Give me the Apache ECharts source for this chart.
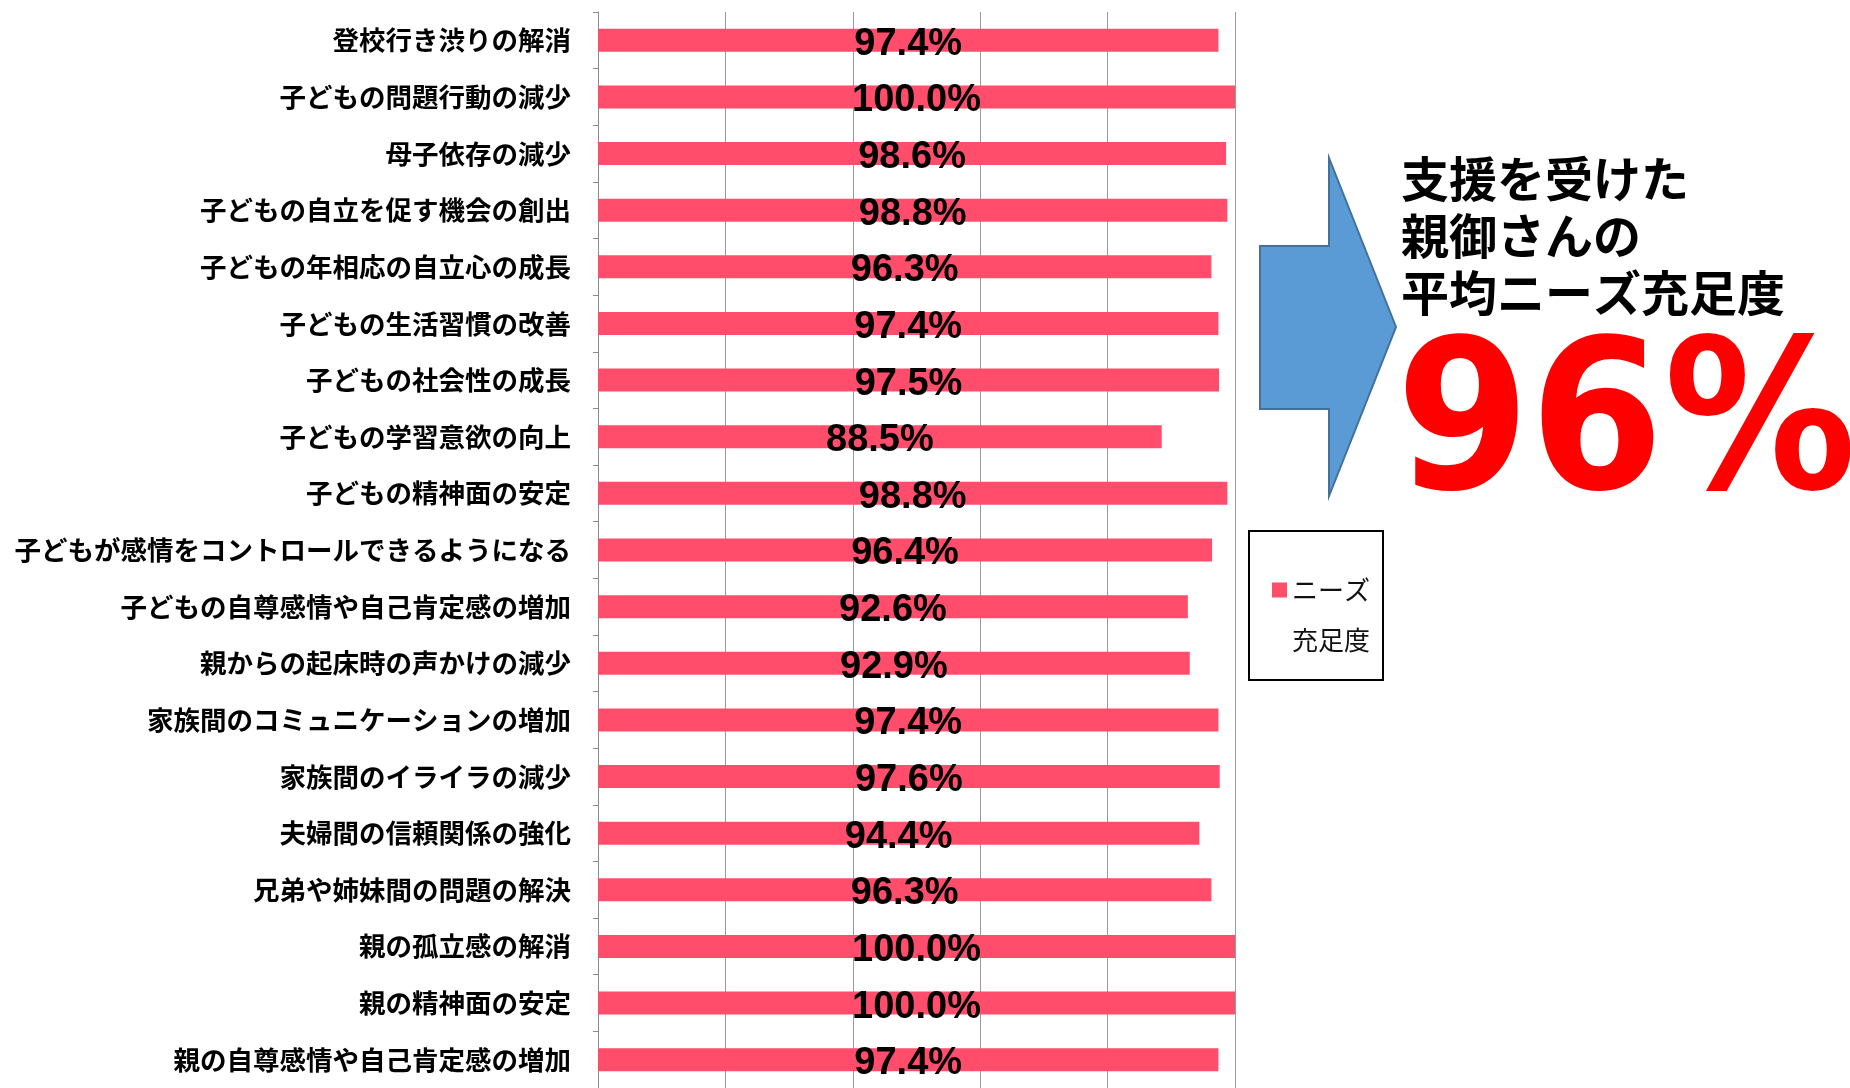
<!DOCTYPE html>
<html>
<head>
<meta charset="utf-8">
<script src="https://cdn.jsdelivr.net/npm/echarts@6/dist/echarts.min.js"></script>
<style>
  html, body { margin: 0; padding: 0; background: #fff; }
  #chart { width: 1850px; height: 1088px; }
</style>
</head>
<body>
<div id="chart"></div>
<script>
// Survey items (top to bottom) and the share of parents whose need was met (%)
const categories = [
  '登校行き渋りの解消',
  '子どもの問題行動の減少',
  '母子依存の減少',
  '子どもの自立を促す機会の創出',
  '子どもの年相応の自立心の成長',
  '子どもの生活習慣の改善',
  '子どもの社会性の成長',
  '子どもの学習意欲の向上',
  '子どもの精神面の安定',
  '子どもが感情をコントロールできるようになる',
  '子どもの自尊感情や自己肯定感の増加',
  '親からの起床時の声かけの減少',
  '家族間のコミュニケーションの増加',
  '家族間のイライラの減少',
  '夫婦間の信頼関係の強化',
  '兄弟や姉妹間の問題の解決',
  '親の孤立感の解消',
  '親の精神面の安定',
  '親の自尊感情や自己肯定感の増加'
];
const satisfaction = [97.4, 100.0, 98.6, 98.8, 96.3, 97.4, 97.5, 88.5, 98.8, 96.4,
                      92.6, 92.9, 97.4, 97.6, 94.4, 96.3, 100.0, 100.0, 97.4];
const seriesName = 'ニーズ充足度';
const headline = ['支援を受けた', '親御さんの', '平均ニーズ充足度'];
const averageText = '96%';

const CJK = '"Noto Sans CJK JP", "Noto Sans", sans-serif';

// Legend swatch: a square sitting at the top of a tall item box, so it lines up
// with the first of the two legend text lines (the zero-length stroke only sets the box).
const legendIcon = 'path://M0,0L15,0L15,15L0,15Z M15,65L15,65';

const chart = echarts.init(document.getElementById('chart'));
chart.setOption({
  animation: false,
  backgroundColor: '#ffffff',
  grid: { left: 598, top: 12, width: 637, height: 1081, containLabel: false },
  xAxis: {
    type: 'value', min: 0, max: 100, interval: 20,
    axisLabel: { show: false }, axisLine: { show: false }, axisTick: { show: false },
    splitLine: { show: true, lineStyle: { color: '#9a9a9a', width: 1 } }
  },
  yAxis: {
    type: 'category', data: categories, inverse: true,
    axisLine: { show: true, lineStyle: { color: '#8c8c8c', width: 1 } },
    axisTick: { show: true, length: 5, lineStyle: { color: '#8c8c8c' } },
    axisLabel: {
      margin: 27, fontSize: 26.5, fontWeight: 'bold', color: '#000', fontFamily: CJK,
      padding: [0, 0, 7, 0]
    }
  },
  legend: {
    left: 1249, top: 531, orient: 'vertical',
    icon: legendIcon, itemWidth: 15, itemHeight: 65,
    padding: [34, 13, 15, 23],
    borderColor: '#000', borderWidth: 2,
    formatter: () => 'ニーズ\n充足度',
    textStyle: { fontSize: 26, lineHeight: 50, color: '#111', fontFamily: CJK },
    data: [seriesName]
  },
  series: [{
    name: seriesName, type: 'bar', data: satisfaction, barWidth: 23,
    itemStyle: { color: '#ff4d6b' },
    label: {
      show: true, position: 'inside', offset: [0, 4],
      formatter: p => p.value.toFixed(1) + '%',
      fontFamily: '"Liberation Sans", Arial, sans-serif', fontWeight: 'bold', fontSize: 38,
      color: '#000', textBorderWidth: 0
    }
  }],
  graphic: [
    {
      type: 'polygon',
      shape: { points: [[1260, 246], [1329, 246], [1329, 158], [1396, 327], [1329, 496], [1329, 409], [1260, 409]] },
      style: { fill: '#5b9bd5', stroke: '#41719c', lineWidth: 2 }
    },
    {
      type: 'text', left: 1401, top: 150,
      style: {
        text: headline.join('\n'), fontFamily: CJK, fontWeight: 'bold', fontSize: 48,
        lineHeight: 57, fill: '#000'
      }
    },
    {
      type: 'text', x: 1396, y: 434, scaleX: 0.925,
      style: {
        text: averageText, fontFamily: '"DejaVu Sans", Verdana, sans-serif', fontWeight: 'bold',
        fontSize: 208, fill: '#ff0000', verticalAlign: 'middle', align: 'left'
      }
    }
  ]
});
</script>
</body>
</html>
